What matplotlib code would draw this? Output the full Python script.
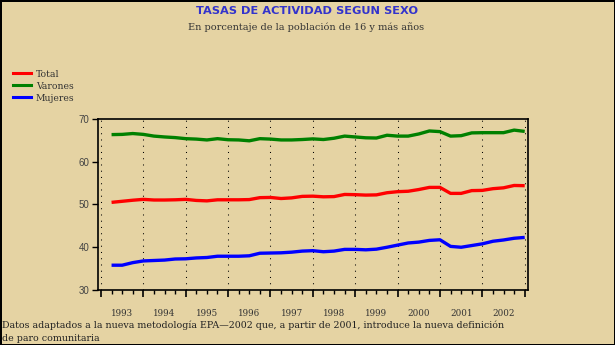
import matplotlib
matplotlib.use("Agg")
import matplotlib.pyplot as plt
from matplotlib.ticker import FixedLocator, NullFormatter

# ---- data (quarterly, 1993 Q1 .. 2002 Q4) ----
years = list(range(1993, 2003))
quarters = [1, 2, 3, 4]

total = [50.5, 50.75, 51.0, 51.2, 51.05, 51.05, 51.1, 51.2, 50.95, 50.85,
         51.1, 51.1, 51.1, 51.15, 51.6, 51.65, 51.4, 51.55, 51.9, 51.95,
         51.8, 51.85, 52.35, 52.3, 52.2, 52.25, 52.75, 53.0, 53.1, 53.5,
         54.0, 54.0, 52.6, 52.6, 53.25, 53.3, 53.7, 53.9, 54.45, 54.4]

varones = [66.35, 66.4, 66.6, 66.4, 66.0, 65.8, 65.65, 65.4, 65.3, 65.1,
           65.4, 65.15, 65.1, 64.9, 65.4, 65.3, 65.1, 65.1, 65.2, 65.35,
           65.2, 65.5, 66.0, 65.8, 65.6, 65.55, 66.2, 66.0, 66.0, 66.5,
           67.2, 67.05, 66.0, 66.1, 66.75, 66.8, 66.8, 66.8, 67.4, 67.1]

mujeres = [35.8, 35.8, 36.4, 36.8, 36.9, 37.0, 37.25, 37.3, 37.5, 37.6,
           37.9, 37.9, 37.9, 38.0, 38.6, 38.65, 38.7, 38.85, 39.1, 39.2,
           38.95, 39.1, 39.5, 39.5, 39.4, 39.55, 40.0, 40.5, 41.0, 41.2,
           41.6, 41.75, 40.2, 40.0, 40.4, 40.8, 41.4, 41.7, 42.1, 42.3]

series_names = ["Total", "Varones", "Mujeres"]
series_colors = ["#ff0000", "#008000", "#0000ff"]
year_labels = [str(y) for y in years]
y_ticks = [30, 40, 50, 60, 70]

title = "TASAS DE ACTIVIDAD SEGUN SEXO"
subtitle = "En porcentaje de la población de 16 y más años"
footnote = ("Datos adaptados a la nueva metodología EPA\u20142002 que, a partir de 2001, introduce la nueva definición\n"
            "de paro comunitaria")

x = [y + q / 4 for y in years for q in quarters]

BG = "#e5d3a3"
SERIF = "DejaVu Serif"
W, H = 615, 345
fig = plt.figure(figsize=(W / 100, H / 100), dpi=100, facecolor=BG,
                 edgecolor="black", linewidth=2)

ax = fig.add_axes([98 / W, 1 - 290 / H, (527.5 - 98) / W, (290 - 119) / H])
ax.set_facecolor(BG)

for vals, name, col in zip([total, varones, mujeres], series_names, series_colors):
    ax.plot(x, vals, color=col, lw=2.4, solid_capstyle="butt", label=name)

ax.set_xlim(1992.93, 2003.066)
ax.set_ylim(30, 70)

# dotted year separators
for yv in years + [years[-1] + 1]:
    ax.axvline(yv, color="black", lw=0.75, linestyle=(0, (1, 5)), zorder=0.5)

ax.xaxis.set_major_locator(FixedLocator(years + [years[-1] + 1]))
ax.xaxis.set_major_formatter(NullFormatter())
ax.xaxis.set_minor_locator(FixedLocator([y + q / 4 for y in years for q in (1, 2, 3)]))
ax.xaxis.set_minor_formatter(NullFormatter())
for yv, lab in zip(years, year_labels):
    ax.text(yv + 0.5, -0.14, lab, transform=ax.get_xaxis_transform(),
            ha="center", va="center", fontsize=6.3, family=SERIF, color="#333333")

ax.yaxis.set_major_locator(FixedLocator(y_ticks))
ax.tick_params(axis="y", length=4, width=1, labelsize=7, colors="black",
               labelcolor="#444444", pad=2)
for lab in ax.get_yticklabels():
    lab.set_family("Liberation Sans")
ax.tick_params(axis="x", which="major", length=5, width=1.2, direction="out")
ax.tick_params(axis="x", which="minor", length=3, width=1, direction="out")
for s in ax.spines.values():
    s.set_linewidth(1.2)

# titles
fig.text(307 / W, 1 - 11 / H, title, ha="center", va="center", color="#3333cc",
         fontsize=8.2, fontweight="bold", family="DejaVu Sans")
fig.text(306 / W, 1 - 27 / H, subtitle, ha="center", va="center", color="#333333",
         fontsize=7, family=SERIF)

# legend drawn manually
leg_y = [73, 85, 96.5]
for yy, name, col in zip(leg_y, series_names, series_colors):
    fig.add_artist(plt.Line2D([12.5 / W, 30.5 / W], [1 - yy / H, 1 - yy / H],
                              color=col, lw=2.2, transform=fig.transFigure))
    fig.text(36 / W, 1 - (yy + 1.5) / H, name, ha="left", va="center",
             fontsize=6.7, family=SERIF, color="#333333")

fig.text(2 / W, 1 - 332 / H, footnote, ha="left", va="center", fontsize=6.8,
         family=SERIF, color="#222222", linespacing=1.55)

fig.savefig("out.png", dpi=100, facecolor=BG, edgecolor="black")
